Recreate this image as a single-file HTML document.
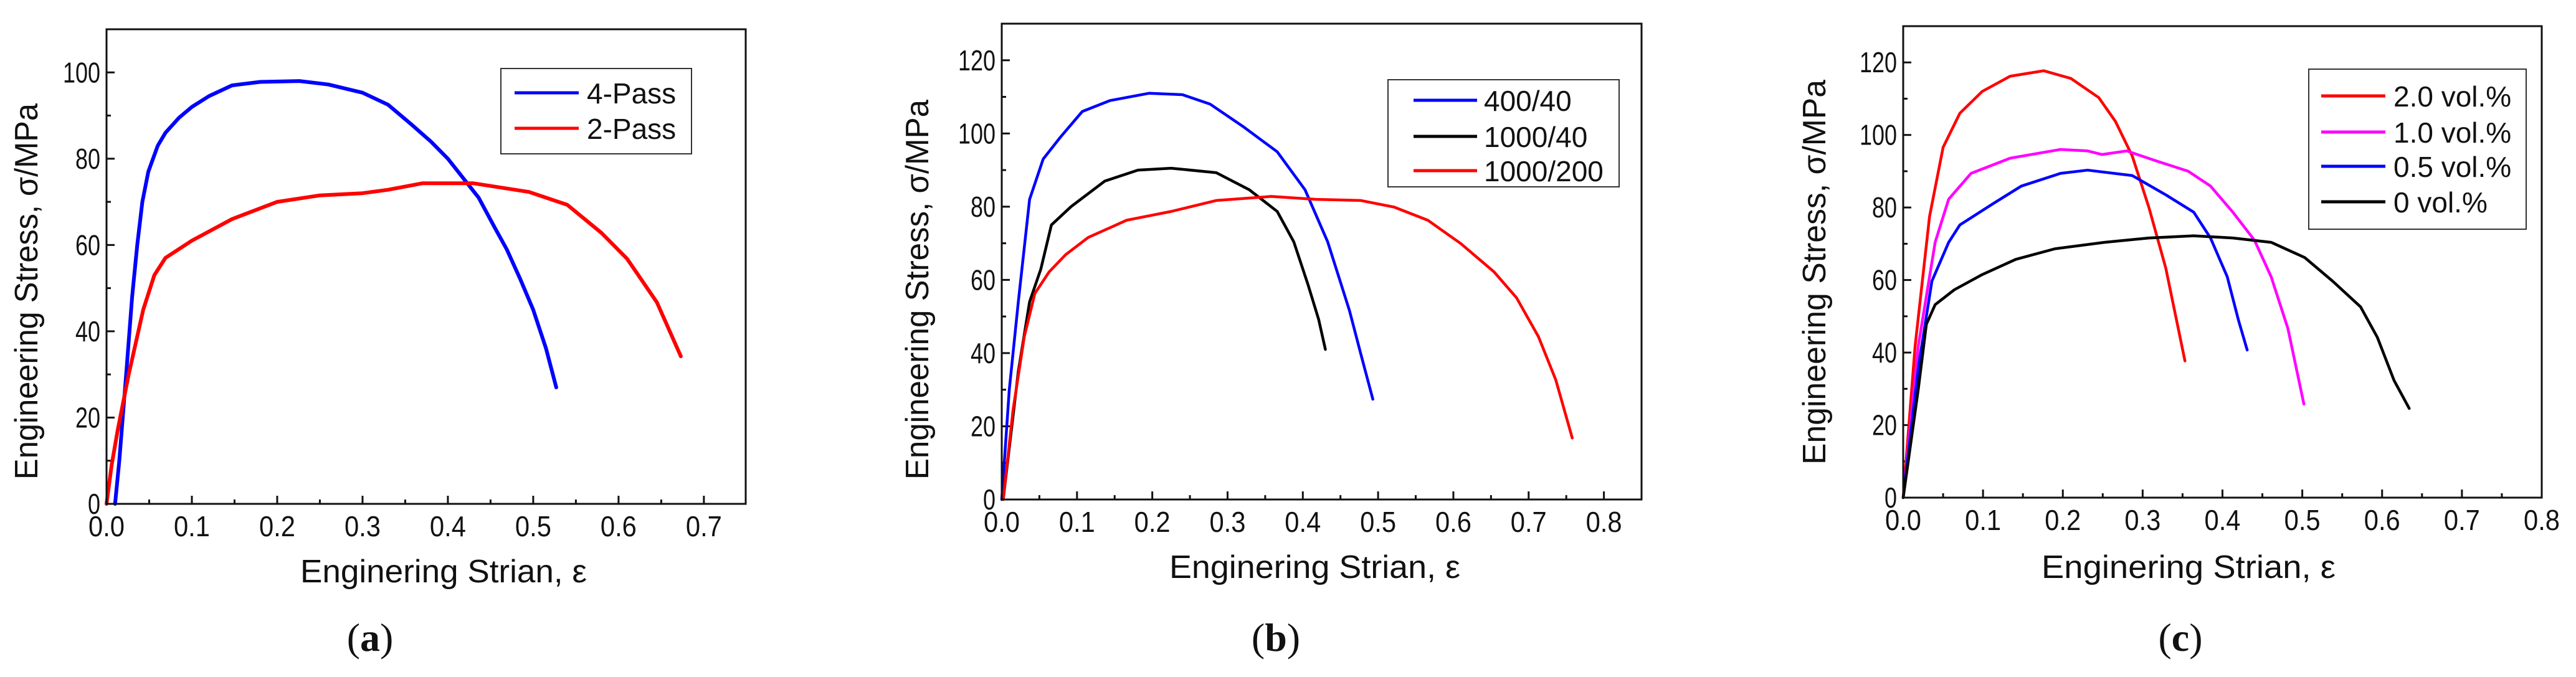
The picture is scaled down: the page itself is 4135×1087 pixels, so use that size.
<!DOCTYPE html>
<html><head><meta charset="utf-8">
<style>
html,body{margin:0;padding:0;background:#fff;}
svg{display:block;}
text{font-family:"Liberation Sans",Arial,sans-serif;fill:#111;}
.cap{font-family:"Liberation Serif",serif;}
</style></head>
<body>
<svg id="fig" width="4135" height="1087" viewBox="0 0 4135 1087" xmlns="http://www.w3.org/2000/svg"></svg>
<script>
// ---- Panel (a) data ----
const aPass4X=[0.01,0.015,0.023,0.03,0.036,0.042,0.049,0.06,0.069,0.085,0.1,0.12,0.147,0.18,0.226,0.26,0.30,0.33,0.357,0.38,0.40,0.42,0.436,0.455,0.469,0.485,0.50,0.515,0.527];
const aPass4Y=[0,10,30,48,60,70,77,83,86,89.5,92,94.5,97,97.8,98,97.2,95.3,92.5,88,84,80,75,71,64,59,52,45,36,27];
const aPass2X=[0,0.006,0.013,0.026,0.043,0.056,0.069,0.10,0.147,0.2,0.25,0.3,0.33,0.37,0.43,0.495,0.54,0.58,0.61,0.645,0.673];
const aPass2Y=[0,9,17,30,45,53,57,61,66,70,71.5,72,72.8,74.3,74.3,72.3,69.3,62.8,56.8,46.7,34.2];
const aLegend=["4-Pass","2-Pass"];
const aXTicks=["0.0","0.1","0.2","0.3","0.4","0.5","0.6","0.7"];
const aYTicks=["0","20","40","60","80","100"];
// ---- Panel (b) data ----
const b400X=[0,0.01,0.022,0.037,0.055,0.078,0.107,0.144,0.196,0.24,0.277,0.32,0.366,0.403,0.433,0.462,0.477,0.493];
const b400Y=[0,30,54,82,93,99,106,109,111,110.6,108,102,95,84.6,70.4,51.6,39.8,27.4];
const b1000_40X=[0.002,0.022,0.037,0.052,0.066,0.092,0.137,0.181,0.225,0.285,0.329,0.366,0.388,0.407,0.421,0.43];
const b1000_40Y=[0,35,54,63,75,80,87,90,90.5,89.3,84.6,78.7,70.4,58.6,49.2,41];
const b1000_200X=[0.002,0.015,0.03,0.044,0.063,0.085,0.115,0.166,0.225,0.285,0.358,0.418,0.477,0.521,0.566,0.61,0.654,0.684,0.713,0.736,0.758];
const b1000_200Y=[0,24.4,44.5,56.3,62.2,66.9,71.6,76.3,78.7,81.7,82.8,82,81.7,79.9,76.3,69.9,62.2,55.1,44.5,32.7,16.8];
const bLegend=["400/40","1000/40","1000/200"];
const bXTicks=["0.0","0.1","0.2","0.3","0.4","0.5","0.6","0.7","0.8"];
const bYTicks=["0","20","40","60","80","100","120"];
// ---- Panel (c) data ----
const c20X=[0,0.015,0.033,0.05,0.071,0.099,0.134,0.176,0.21,0.245,0.266,0.287,0.308,0.329,0.353];
const c20Y=[0,41.9,77.5,96.6,106,112,116.2,117.7,115.6,110.3,103.7,94.2,79.9,63.3,37.7];
const c10X=[0,0.019,0.04,0.057,0.085,0.134,0.197,0.231,0.249,0.28,0.315,0.357,0.385,0.413,0.44,0.461,0.482,0.502];
const c10Y=[0,41.9,70.4,82.3,89.4,93.6,96,95.6,94.6,95.6,93,90,85.9,78.7,71,60.9,46.6,25.8];
const c05X=[0,0.019,0.036,0.057,0.071,0.113,0.148,0.197,0.231,0.287,0.329,0.364,0.385,0.406,0.42,0.431];
const c05Y=[0,35.9,59.7,70.4,75.2,81.1,85.9,89.4,90.3,88.8,83.5,78.7,71.6,60.9,49,40.7];
const c0X=[0,0.019,0.029,0.04,0.064,0.099,0.141,0.19,0.252,0.308,0.364,0.413,0.461,0.503,0.538,0.573,0.594,0.615,0.634];
const c0Y=[0,30,47.8,53.2,57.3,61.5,65.7,68.6,70.4,71.6,72.2,71.6,70.4,66.2,59.7,52.6,44.2,32.3,24.6];
const cLegend=["2.0 vol.%","1.0 vol.%","0.5 vol.%","0  vol.%"];
const cXTicks=["0.0","0.1","0.2","0.3","0.4","0.5","0.6","0.7","0.8"];
const cYTicks=["0","20","40","60","80","100","120"];

const NS="http://www.w3.org/2000/svg";
const fig=document.getElementById('fig');
function mk(tag,attrs,parent){const e=document.createElementNS(NS,tag);for(const k in attrs)e.setAttribute(k,attrs[k]);(parent||fig).appendChild(e);return e;}

function panel(cfg){
  const g=mk('g',{});
  
  
  const L=cfg.left,R=cfg.right,T=cfg.top,B=cfg.bottom;
  const sx=v=>L+(v/cfg.xmax)*(R-L);
  const sy=v=>B-(v/cfg.ymax)*(B-T);
  // ticks
  const tk=mk('g',{stroke:'#111','stroke-width':3},g);
  
  
  for(let v=0;v<=cfg.xmax+1e-9;v+=cfg.xstep/2){
    const major=Math.abs(Math.round(v/cfg.xstep)*cfg.xstep-v)<1e-6;
    mk('line',{x1:sx(v),x2:sx(v),y1:B,y2:B-(major?13:7)},tk);
  }
  for(let v=0;v<=cfg.ymax+1e-9;v+=cfg.ystep/2){
    const major=Math.abs(Math.round(v/cfg.ystep)*cfg.ystep-v)<1e-6;
    mk('line',{x1:L,x2:L+(major?13:7),y1:sy(v),y2:sy(v)},tk);
  }
  cfg.xticks.forEach((s,i)=>{
    const t=mk('text',{x:sx(i*cfg.xstep),y:B+52,'font-size':46,'text-anchor':'middle',textLength:58,lengthAdjust:'spacingAndGlyphs'},g);
    t.textContent=s;
    
    
  });
  cfg.yticks.forEach((s,i)=>{
    const t=mk('text',{x:L-10,y:sy(i*cfg.ystep)+16,'font-size':46,'text-anchor':'end',textLength:s.length*20,lengthAdjust:'spacingAndGlyphs'},g);
    t.textContent=s;
    
    
  });
  // series
  cfg.series.forEach(se=>{
    let d='';
    se.x.forEach((xv,i)=>{d+=(i?'L':'M')+sx(xv).toFixed(1)+' '+sy(se.y[i]).toFixed(1);});
    const p=mk('path',{d:d,fill:'none',stroke:se.color,'stroke-width':cfg.lw,'stroke-linejoin':'round','stroke-linecap':'round'},g);
    
    
  });
  // frame
  const fr=mk('rect',{x:L,y:T,width:R-L,height:B-T,fill:'none',stroke:'#111','stroke-width':3},g);
  
  
  // legend
  const lg=mk('g',{},g);
  
  
  const lb=cfg.leg;
  mk('rect',{x:lb.x,y:lb.y,width:lb.w,height:lb.h,fill:'#fff',stroke:'#333','stroke-width':2},lg);
  cfg.series.forEach((se,i)=>{
    const yy=lb.rows[i];
    mk('line',{x1:lb.l1,x2:lb.l2,y1:yy,y2:yy,stroke:se.color,'stroke-width':5},lg);
    const t=mk('text',{x:lb.tx,y:yy+17,'font-size':46},lg);
    t.textContent=se.label;
    
    
  });
  // titles
  const xt=mk('text',{x:cfg.xt.x,y:cfg.xt.y,'font-size':52,textLength:cfg.xt.w,lengthAdjust:'spacingAndGlyphs'},g);
  xt.textContent='Enginering Strian, ε';
  
  
  const yt=mk('text',{x:0,y:0,'font-size':52,'text-anchor':'middle',textLength:cfg.yt.w,lengthAdjust:'spacingAndGlyphs',transform:`translate(${cfg.yt.x},${cfg.yt.y}) rotate(-90)`},g);
  yt.textContent='Engineering Stress, σ/MPa';
  
  
  const cp=mk('text',{x:cfg.cap.x,y:cfg.cap.y,'font-size':64,'text-anchor':'middle','class':'cap'},g);
  cp.innerHTML='(<tspan font-weight="bold">'+cfg.cap.l+'</tspan>)';
  
  
}

panel({name:'panel-a',left:171,right:1197,top:47,bottom:809,xmax:0.749,ymax:110,xstep:0.1,ystep:20,lw:6,
  xticks:aXTicks,yticks:aYTicks,
  series:[{key:'4-pass',label:aLegend[0],color:'#0000ff',x:aPass4X,y:aPass4Y},
          {key:'2-pass',label:aLegend[1],color:'#ff0000',x:aPass2X,y:aPass2Y}],
  leg:{x:804,y:110,w:306,h:137,l1:826,l2:929,tx:942,rows:[149,206]},
  xt:{x:482,y:935,w:460},yt:{x:60,y:468,w:604},cap:{x:594,y:1045,l:'a'}});

panel({name:'panel-b',left:1608,right:2635,top:38,bottom:802,xmax:0.85,ymax:130,xstep:0.1,ystep:20,lw:4.5,
  xticks:bXTicks,yticks:bYTicks,
  series:[{key:'400-40',label:bLegend[0],color:'#0000ff',x:b400X,y:b400Y},
          {key:'1000-40',label:bLegend[1],color:'#000000',x:b1000_40X,y:b1000_40Y},
          {key:'1000-200',label:bLegend[2],color:'#ff0000',x:b1000_200X,y:b1000_200Y}],
  leg:{x:2228,y:128,w:371,h:172,l1:2269,l2:2371,tx:2382,rows:[161,219,274]},
  xt:{x:1877,y:928,w:467},yt:{x:1490,y:465,w:610},cap:{x:2048,y:1045,l:'b'}});

panel({name:'panel-c',left:3055,right:4080,top:42,bottom:799,xmax:0.8,ymax:130,xstep:0.1,ystep:20,lw:4.5,
  xticks:cXTicks,yticks:cYTicks,
  series:[{key:'2-0-vol',label:cLegend[0],color:'#ff0000',x:c20X,y:c20Y},
          {key:'1-0-vol',label:cLegend[1],color:'#ff00ff',x:c10X,y:c10Y},
          {key:'0-5-vol',label:cLegend[2],color:'#0000ff',x:c05X,y:c05Y},
          {key:'0-vol',label:cLegend[3],color:'#000000',x:c0X,y:c0Y}],
  leg:{x:3706,y:111,w:349,h:257,l1:3726,l2:3829,tx:3842,rows:[154,212,267,324]},
  xt:{x:3277,y:928,w:472},yt:{x:2930,y:437,w:618},cap:{x:3500,y:1045,l:'c'}});
</script>
</body></html>
